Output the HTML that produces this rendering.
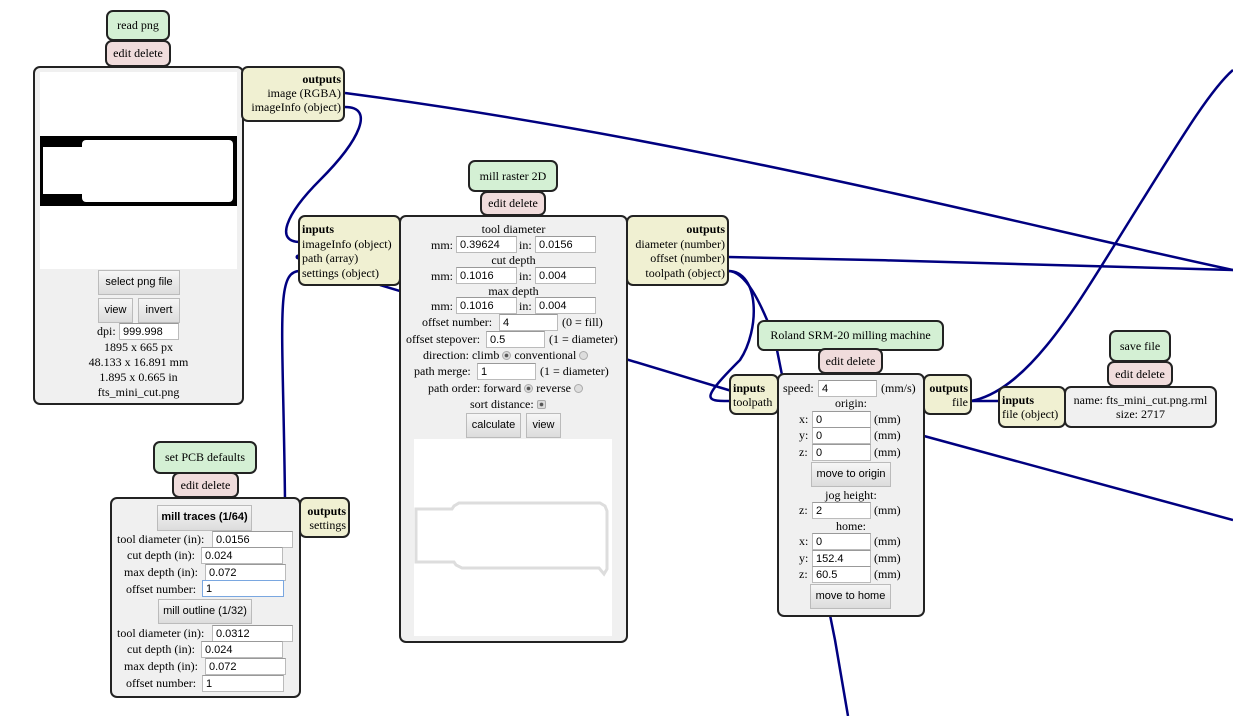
<!DOCTYPE html>
<html><head><meta charset="utf-8"><style>
body{margin:0;width:1233px;height:716px;background:#fff;position:relative;overflow:hidden;font-family:"Liberation Serif",serif;font-size:12px;color:#000}
.a{position:absolute;box-sizing:border-box}
.b{border:2px solid #222;border-radius:7px}
.g{background:#d4f0d4}.p{background:#f0dcdc}.y{background:#f0f0d2}.w{background:#f0f0f0}
.c{text-align:center;white-space:nowrap}
.t{position:absolute;white-space:nowrap;line-height:14px}
input{position:absolute;box-sizing:border-box;height:17px;border:1px solid #bbb;border-top-color:#999;font-family:"Liberation Sans",sans-serif;font-size:11px;padding:0 3px;background:#fff;margin:0}
.btn{position:absolute;box-sizing:border-box;border:1px solid #bbb;background:linear-gradient(#f6f6f6,#dcdcdc);font-family:"Liberation Sans",sans-serif;font-size:11px;text-align:center;line-height:23px;height:25px}
.r{display:inline-block;width:9px;height:9px;border-radius:50%;border:1px solid #aaa;background:#ddd;vertical-align:-1px;box-sizing:border-box}
.r.on{background:radial-gradient(#555 30%,#ddd 45%)}
</style></head><body>
<svg class="a" style="left:0;top:0" width="1233" height="716">
<g fill="none" stroke="#000080" stroke-width="2.5">
<path d="M345,93 C700,140 1000,220 1233,270"/>
<path d="M345,107 C375,107 360,140 320,180 C285,215 275,242 300,242"/>
<path d="M300,271 C275,271 283,320 285,500"/>
<path d="M380,285 L735,392"/>
<path d="M728,257 C900,260 1100,266 1233,270"/>
<path d="M728,271 C760,271 760,330 740,360 C700,400 705,401 729,401"/>
<path d="M728,271 C745,271 760,300 775,340 L835,640 L848,716"/>
<path d="M924,436 L1233,520"/>
<path d="M971,401 L998,401"/>
<path d="M971,401 C1030,390 1080,300 1130,220 C1180,140 1210,90 1233,70"/>
</g>
<circle cx="298" cy="257" r="2.5" fill="#000080"/>
</svg>

<!-- read png -->
<div class="a b g c" style="left:106px;top:10px;width:64px;height:31px;line-height:27px">read png</div>
<div class="a b p c" style="left:105px;top:40px;width:66px;height:27px;line-height:23px">edit delete</div>
<div class="a b w" style="left:33px;top:66px;width:211px;height:339px"></div>
<div class="a" style="left:40px;top:72px;width:197px;height:197px;background:#fff"></div>
<div class="a" style="left:40px;top:136px;width:197px;height:70px;background:#000"></div>
<div class="a" style="left:82px;top:140px;width:151px;height:62px;background:#fff;border-radius:4px"></div>
<div class="a" style="left:43px;top:147px;width:42px;height:47px;background:#fff"></div>
<div class="btn" style="left:98px;top:270px;width:82px">select png file</div>
<div class="btn" style="left:98px;top:298px;width:35px">view</div>
<div class="btn" style="left:138px;top:298px;width:42px">invert</div>
<div class="t" style="left:97px;top:324px">dpi:</div><input style="left:119px;top:323px;width:60px" value="999.998">
<div class="t c" style="left:33px;width:211px;top:340px">1895 x 665 px</div>
<div class="t c" style="left:33px;width:211px;top:355px">48.133 x 16.891 mm</div>
<div class="t c" style="left:33px;width:211px;top:370px">1.895 x 0.665 in</div>
<div class="t c" style="left:33px;width:211px;top:385px">fts_mini_cut.png</div>
<div class="a b y" style="left:241px;top:66px;width:104px;height:56px;text-align:right;padding:4px 2px 0 0;line-height:14px"><b>outputs</b><br>image (RGBA)<br>imageInfo (object)</div>

<!-- mill raster -->
<div class="a b g c" style="left:468px;top:160px;width:90px;height:32px;line-height:28px">mill raster 2D</div>
<div class="a b p c" style="left:480px;top:191px;width:66px;height:25px;line-height:21px">edit delete</div>
<div class="a b y" style="left:298px;top:215px;width:103px;height:71px;padding:5px 0 0 2px;line-height:14.5px"><b>inputs</b><br>imageInfo (object)<br>path (array)<br>settings (object)</div>
<div class="a b w" style="left:399px;top:215px;width:229px;height:428px"></div>
<div class="a b y" style="left:626px;top:215px;width:103px;height:71px;text-align:right;padding:5px 2px 0 0;line-height:14.5px"><b>outputs</b><br>diameter (number)<br>offset (number)<br>toolpath (object)</div>
<div class="t c" style="left:399px;width:229px;top:222px">tool diameter</div>
<div class="t" style="left:431px;top:238px">mm:</div><input style="left:456px;top:236px;width:61px" value="0.39624">
<div class="t" style="left:519px;top:238px">in:</div><input style="left:535px;top:236px;width:61px" value="0.0156">
<div class="t c" style="left:399px;width:229px;top:253px">cut depth</div>
<div class="t" style="left:431px;top:269px">mm:</div><input style="left:456px;top:267px;width:61px" value="0.1016">
<div class="t" style="left:519px;top:269px">in:</div><input style="left:535px;top:267px;width:61px" value="0.004">
<div class="t c" style="left:399px;width:229px;top:284px">max depth</div>
<div class="t" style="left:431px;top:299px">mm:</div><input style="left:456px;top:297px;width:61px" value="0.1016">
<div class="t" style="left:519px;top:299px">in:</div><input style="left:535px;top:297px;width:61px" value="0.004">
<div class="t" style="left:422px;top:315px">offset number:</div><input style="left:499px;top:314px;width:59px" value="4"><div class="t" style="left:562px;top:315px">(0 = fill)</div>
<div class="t" style="left:406px;top:332px">offset stepover:</div><input style="left:486px;top:331px;width:59px" value="0.5"><div class="t" style="left:549px;top:332px">(1 = diameter)</div>
<div class="t" style="left:423px;top:348px">direction: climb <span class="r on"></span> conventional <span class="r"></span></div>
<div class="t" style="left:414px;top:364px">path merge:</div><input style="left:477px;top:363px;width:59px" value="1"><div class="t" style="left:540px;top:364px">(1 = diameter)</div>
<div class="t" style="left:428px;top:381px">path order: forward <span class="r on"></span> reverse <span class="r"></span></div>
<div class="t" style="left:470px;top:397px">sort distance: <span class="r on" style="border-radius:2px"></span></div>
<div class="btn" style="left:466px;top:413px;width:55px">calculate</div>
<div class="btn" style="left:526px;top:413px;width:35px">view</div>
<div class="a" style="left:414px;top:439px;width:198px;height:197px;background:#fff"></div>
<svg class="a" style="left:414px;top:439px" width="198" height="197"><path d="M2,70 L38,70 L40,67 L45,64 L186,64 L191,67 L193,72 L193,130 L190,135 L185,129 L48,129 L42,126 L40,123 L2,123 Z" fill="none" stroke="#ddd" stroke-width="3"/></svg>

<!-- Roland -->
<div class="a b g c" style="left:757px;top:320px;width:187px;height:31px;line-height:27px">Roland SRM-20 milling machine</div>
<div class="a b p c" style="left:818px;top:348px;width:65px;height:26px;line-height:22px">edit delete</div>
<div class="a b y" style="left:729px;top:374px;width:50px;height:41px;padding:5px 0 0 2px;line-height:14px"><b>inputs</b><br>toolpath</div>
<div class="a b w" style="left:777px;top:373px;width:148px;height:244px"></div>
<div class="a b y" style="left:923px;top:374px;width:49px;height:41px;text-align:right;padding:5px 2px 0 0;line-height:14px"><b>outputs</b><br>file</div>
<div class="t" style="left:783px;top:381px">speed:</div><input style="left:818px;top:380px;width:59px" value="4"><div class="t" style="left:881px;top:381px">(mm/s)</div>
<div class="t c" style="left:777px;width:148px;top:396px">origin:</div>
<div class="t" style="left:799px;top:412px">x:</div><input style="left:812px;top:411px;width:59px" value="0"><div class="t" style="left:874px;top:412px">(mm)</div>
<div class="t" style="left:799px;top:428px">y:</div><input style="left:812px;top:427px;width:59px" value="0"><div class="t" style="left:874px;top:428px">(mm)</div>
<div class="t" style="left:799px;top:445px">z:</div><input style="left:812px;top:444px;width:59px" value="0"><div class="t" style="left:874px;top:445px">(mm)</div>
<div class="btn" style="left:811px;top:462px;width:80px">move to origin</div>
<div class="t c" style="left:777px;width:148px;top:488px">jog height:</div>
<div class="t" style="left:799px;top:503px">z:</div><input style="left:812px;top:502px;width:59px" value="2"><div class="t" style="left:874px;top:503px">(mm)</div>
<div class="t c" style="left:777px;width:148px;top:519px">home:</div>
<div class="t" style="left:799px;top:534px">x:</div><input style="left:812px;top:533px;width:59px" value="0"><div class="t" style="left:874px;top:534px">(mm)</div>
<div class="t" style="left:799px;top:551px">y:</div><input style="left:812px;top:550px;width:59px" value="152.4"><div class="t" style="left:874px;top:551px">(mm)</div>
<div class="t" style="left:799px;top:567px">z:</div><input style="left:812px;top:566px;width:59px" value="60.5"><div class="t" style="left:874px;top:567px">(mm)</div>
<div class="btn" style="left:810px;top:584px;width:81px">move to home</div>

<!-- save file -->
<div class="a b g c" style="left:1109px;top:330px;width:62px;height:32px;line-height:28px">save file</div>
<div class="a b p c" style="left:1107px;top:361px;width:66px;height:26px;line-height:22px">edit delete</div>
<div class="a b y" style="left:998px;top:386px;width:68px;height:42px;padding:5px 0 0 2px;line-height:14px"><b>inputs</b><br>file (object)</div>
<div class="a b w c" style="left:1064px;top:386px;width:153px;height:42px;padding-top:5px;line-height:14px">name: fts_mini_cut.png.rml<br>size: 2717</div>

<!-- set PCB defaults -->
<div class="a b g c" style="left:153px;top:441px;width:104px;height:33px;line-height:29px">set PCB defaults</div>
<div class="a b p c" style="left:172px;top:472px;width:67px;height:26px;line-height:22px">edit delete</div>
<div class="a b w" style="left:110px;top:497px;width:191px;height:201px"></div>
<div class="a b y" style="left:299px;top:497px;width:51px;height:41px;text-align:right;padding:5px 2px 0 0;line-height:14px"><b>outputs</b><br>settings</div>
<div class="btn" style="left:157px;top:505px;width:95px;height:26px;font-weight:bold">mill traces (1/64)</div>
<div class="t" style="left:117px;top:532px">tool diameter (in):</div><input style="left:212px;top:531px;width:81px" value="0.0156">
<div class="t" style="left:127px;top:548px">cut depth (in):</div><input style="left:201px;top:547px;width:82px" value="0.024">
<div class="t" style="left:124px;top:565px">max depth (in):</div><input style="left:205px;top:564px;width:81px" value="0.072">
<div class="t" style="left:126px;top:582px">offset number:</div><input style="left:202px;top:580px;width:82px;border:1px solid #7aa7e0" value="1">
<div class="btn" style="left:158px;top:599px;width:94px">mill outline (1/32)</div>
<div class="t" style="left:117px;top:626px">tool diameter (in):</div><input style="left:212px;top:625px;width:81px" value="0.0312">
<div class="t" style="left:127px;top:642px">cut depth (in):</div><input style="left:201px;top:641px;width:82px" value="0.024">
<div class="t" style="left:124px;top:659px">max depth (in):</div><input style="left:205px;top:658px;width:81px" value="0.072">
<div class="t" style="left:126px;top:676px">offset number:</div><input style="left:202px;top:675px;width:82px" value="1">
</body></html>
